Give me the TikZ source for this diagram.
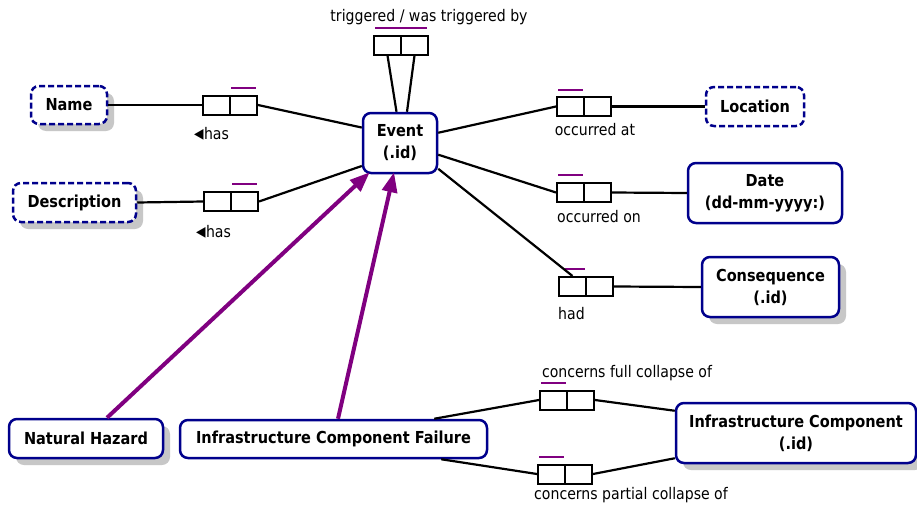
\documentclass[tikz,border=0pt]{standalone}
\usepackage{fontspec}
\setmainfont{DejaVu Sans}[FakeStretch=0.88]
\usetikzlibrary{arrows.meta,shadows}
\definecolor{navyb}{RGB}{0,0,140}
\definecolor{purp}{RGB}{128,0,128}
\newcommand{\ltri}{\raisebox{0.3pt}{\fontsize{14}{14}\selectfont ◀}\kern0.5pt}
\begin{document}
\begin{tikzpicture}[x=1pt,y=-1pt,
  ent/.style={draw=navyb,line width=2.5pt,rounded corners=8pt,fill=white,align=center,inner sep=0pt,font=\fontsize{16.5}{22}\selectfont\bfseries},
  valent/.style={ent,dash pattern=on 6pt off 3pt},
  shd/.style={drop shadow={shadow xshift=7pt,shadow yshift=-7pt,fill=black!22,opacity=1}},
  rel/.style={draw=black,line width=2pt,fill=white,minimum width=27pt,minimum height=19pt,inner sep=0pt},
  lbl/.style={font=\fontsize{16}{19}\selectfont,inner sep=0pt},
  conn/.style={black,line width=2.2pt},
  arr/.style={purp,line width=4pt,-{Triangle[length=20pt,width=15pt]}},
  bar/.style={purp,line width=2pt}]
\path[fill=white] (0,0) rectangle (917,506);
\useasboundingbox (0,0) rectangle (917,506);

% entities
\node[valent,shd,minimum width=76pt,minimum height=38pt] (name) at (69,105) {Name};
\node[valent,shd,minimum width=123pt,minimum height=39pt] (desc) at (74.5,202.5) {Description};
\node[ent,minimum width=74pt,minimum height=60pt] (event) at (400,143) {Event\\(.id)};
\node[valent,minimum width=98pt,minimum height=39pt] (loc) at (755,106.5) {Location};
\node[ent,minimum width=154pt,minimum height=60pt] (date) at (765,193) {Date\\(dd-mm-yyyy:)};
\node[ent,shd,minimum width=137pt,minimum height=60pt] (cons) at (770.5,287) {Consequence\\(.id)};
\node[ent,shd,minimum width=154pt,minimum height=39pt] (nh) at (86,438.5) {Natural Hazard};
\node[ent,minimum width=307pt,minimum height=38pt] (icf) at (333.5,439) {Infrastructure Component Failure};
\node[ent,shd,minimum width=240pt,minimum height=60pt] (ic) at (796,433) {Infrastructure Component\\(.id)};

% relation boxes
\node[rel] (trigL) at (387.5,45) {};
\node[rel] (trigR) at (414.5,45) {};
\node[rel] (hnL) at (216.5,105) {};
\node[rel] (hnR) at (243.5,105) {};
\node[rel] (hdL) at (217.5,201.5) {};
\node[rel] (hdR) at (244.5,201.5) {};
\node[rel] (oaL) at (570.5,106.5) {};
\node[rel] (oaR) at (597.5,106.5) {};
\node[rel] (ooL) at (570.5,192.5) {};
\node[rel] (ooR) at (597.5,192.5) {};
\node[rel] (hadL) at (572.5,286.5) {};
\node[rel] (hadR) at (599.5,286.5) {};
\node[rel] (fcL) at (553.5,400) {};
\node[rel] (fcR) at (580.5,400) {};
\node[rel] (pcL) at (551.5,474) {};
\node[rel] (pcR) at (578.5,474) {};

% purple bars
\draw[bar] ([xshift=2pt,yshift=7pt]trigL.north west) -- ([xshift=-2pt,yshift=7pt]trigR.north east);
\draw[bar] ([xshift=2pt,yshift=7pt]hnR.north west) -- ([xshift=-2pt,yshift=7pt]hnR.north east);
\draw[bar] ([xshift=2pt,yshift=7pt]hdR.north west) -- ([xshift=-2pt,yshift=7pt]hdR.north east);
\draw[bar] ([xshift=2pt,yshift=6pt]oaL.north west) -- ([xshift=-2pt,yshift=6pt]oaL.north east);
\draw[bar] ([xshift=2pt,yshift=7pt]ooL.north west) -- ([xshift=-2pt,yshift=7pt]ooL.north east);
\draw[bar] ([xshift=7pt,yshift=7pt]hadL.north west) -- ([xshift=-2pt,yshift=7pt]hadL.north east);
\draw[bar] ([xshift=2pt,yshift=7pt]fcL.north west) -- ([xshift=-2pt,yshift=7pt]fcL.north east);
\draw[bar] ([xshift=2pt,yshift=7pt]pcL.north west) -- ([xshift=-2pt,yshift=7pt]pcL.north east);

% connectors
\draw[conn] (trigL.south) -- ([xshift=-3.5pt]event.north);
\draw[conn] (trigR.south) -- ([xshift=7pt]event.north);
\draw[conn] (name.east) -- (hnL.west);
\draw[conn] (hnR.east) -- (event.158);
\draw[conn] (desc.east) -- (hdL.west);
\draw[conn] (hdR.east) -- (event.211);
\draw[conn] (event.15) -- (oaL.west);
\draw[conn] (oaR.east) -- (loc.west);
\draw[conn] (event.-17) -- (ooL.west);
\draw[conn] (ooR.east) -- (date.west);
\draw[conn] (event.-34) -- (hadL.north);
\draw[conn] (hadR.east) -- (cons.west);
\draw[conn] ([xshift=-54pt]icf.north east) -- (fcL.west);
\draw[conn] (fcR.east) -- ([yshift=-9pt]ic.north west);
\draw[conn] ([xshift=-47pt]icf.south east) -- (pcL.west);
\draw[conn] (pcR.east) -- ([yshift=6pt]ic.south west);

% subtype arrows
\draw[arr] ([xshift=21pt]nh.north) -- ([xshift=8pt,yshift=2pt]event.south west);
\draw[arr] ([xshift=4.5pt]icf.north) -- ([xshift=-6pt,yshift=2pt]event.south);

% labels
\node[lbl,anchor=base] (lTrig) at (429,21) {triggered / was triggered by};
\node[lbl,anchor=base] (lHn) at (211.5,139) {\ltri has};
\node[lbl,anchor=base] (lHd) at (213.5,237) {\ltri has};
\node[lbl,anchor=base] (lOa) at (595,135) {occurred at};
\node[lbl,anchor=base] (lOo) at (599,222) {occurred on};
\node[lbl,anchor=base west] (lHad) at (558,319) {had};
\node[lbl,anchor=base] (lFc) at (627,377) {concerns full collapse of};
\node[lbl,anchor=base] (lPc) at (631,499) {concerns partial collapse of};
\end{tikzpicture}
\end{document}
